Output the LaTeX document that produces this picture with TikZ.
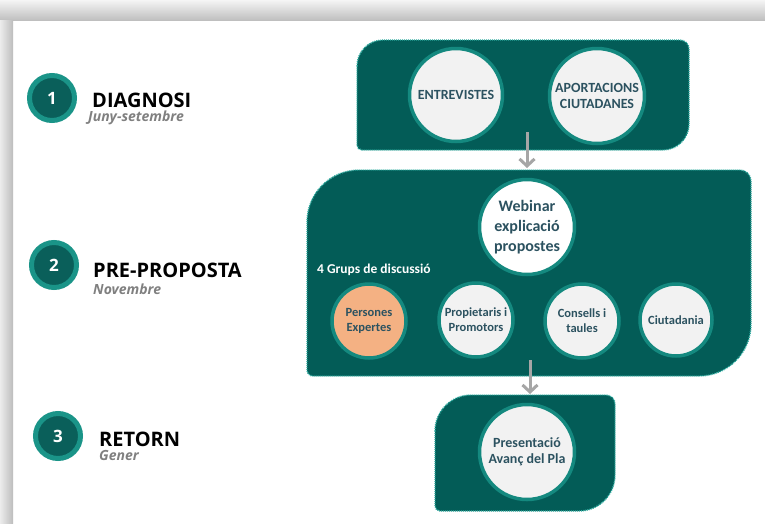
\documentclass[tikz,border=0pt]{standalone}
\usepackage{fontspec}
\setmainfont{Carlito}
\newfontfamily\osans{Open Sans}
\usetikzlibrary{arrows.meta}
\definecolor{boxfill}{HTML}{035C57}
\definecolor{boxedge}{HTML}{2AAA9E}
\definecolor{ring}{HTML}{14897F}
\definecolor{numring}{HTML}{1A9488}
\definecolor{numfill}{HTML}{0A5F5A}
\definecolor{cfill}{HTML}{F2F2F2}
\definecolor{ctext}{HTML}{2C5260}
\definecolor{orangef}{HTML}{F4B183}
\definecolor{arrowg}{HTML}{A6A6A6}
\definecolor{subg}{HTML}{808080}
% x1 y1 x2 y2 Rbig rTR rBL
\newcommand{\leafbox}[7]{%
 \path[leaf] ({#1},{#2+#5}) .. controls ({#1},{#2+0.4477*#5}) and ({#1+0.4477*#5},{#2}) .. ({#1+#5},{#2})
  -- ({#3-#6},{#2}) .. controls ({#3-0.4477*#6},{#2}) and ({#3},{#2+0.4477*#6}) .. ({#3},{#2+#6})
  -- ({#3},{#4-#5}) .. controls ({#3},{#4-0.4477*#5}) and ({#3-0.4477*#5},{#4}) .. ({#3-#5},{#4})
  -- ({#1+#7},{#4}) .. controls ({#1+0.4477*#7},{#4}) and ({#1},{#4-0.4477*#7}) .. ({#1},{#4-#7}) -- cycle;}
\begin{document}
\begin{tikzpicture}[x=1pt,y=-1pt,
  leaf/.style={fill=boxfill,draw=boxedge,line width=1.4pt,dash pattern=on 1pt off 1pt},
  numc/.style={circle,fill=numfill,draw=numring,line width=5pt,minimum size=45pt,inner sep=0pt,text=white,font=\osans\bfseries\fontsize{17}{17}\selectfont},
  phase/.style={anchor=base west,inner sep=0pt,font=\osans\bfseries\fontsize{20}{20}\selectfont,text=black},
  sub/.style={anchor=base west,inner sep=0pt,font=\osans\bfseries\itshape\fontsize{14}{14}\selectfont,text=subg},
  bigc/.style={circle,draw=ring,line width=3.5pt,fill=cfill,inner sep=0pt,align=center,text=ctext,font=\bfseries\fontsize{14}{16}\selectfont},
  smallc/.style={circle,draw=ring,line width=3.5pt,fill=cfill,inner sep=0pt,minimum size=74pt,align=center,text=ctext,font=\bfseries\fontsize{12.5}{15}\selectfont},
  flow/.style={draw=arrowg,line width=3pt,-{Straight Barb[length=7pt,width=15pt]}}
]
\useasboundingbox (0,0) rectangle (765,523);
\fill[white] (0,0) rectangle (765,523);
% frame shadow
\shade[top color=gray!8, bottom color=gray!50] (0,0) rectangle (765,20);
\shade[left color=gray!15, right color=gray!52] (0,20) rectangle (13,523);
% leaf boxes
\leafbox{357}{40}{689}{150}{26}{9}{5}
\leafbox{307}{170}{751}{376}{52}{11}{6}
\leafbox{435}{395}{615}{511}{36}{9}{5}
% phases
\node[numc] (n1) at (52,98) {1};
\node[numc] (n2) at (54,265) {2};
\node[numc] (n3) at (58,436) {3};
\node[phase] (p1) at (92,107) {DIAGNOSI};
\node[sub] (s1) at (88,121) {Juny-setembre};
\node[phase] (p2) at (93,277) {PRE-PROPOSTA};
\node[sub] (s2) at (93,294) {Novembre};
\node[phase] (p3) at (99,446) {RETORN};
\node[sub] (s3) at (99,460) {Gener};
% circles
\node[bigc,minimum size=93pt] (ent) at (456,95) {ENTREVISTES};
\node[bigc,minimum size=95pt] (apo) at (597,96) {APORTACIONS\\CIUTADANES};
\node[bigc,minimum size=95pt,fill=white,font=\bfseries\fontsize{16}{20}\selectfont] (web) at (527,227) {Webinar\\explicació\\propostes};
\node[anchor=base west,inner sep=0pt,text=white,font=\bfseries\fontsize{13.5}{14}\selectfont] (grp) at (317,273) {4 Grups de discussió};
\node[smallc,fill=orangef] (per) at (369,321) {Persones\\Expertes};
\node[smallc] (pro) at (476,320) {Propietaris i\\Promotors};
\node[smallc] (con) at (582,321) {Consells i\\taules};
\node[smallc,minimum size=72pt] (ciu) at (676,320) {Ciutadania};
\node[bigc,minimum size=95pt] (pre) at (527,452) {Presentació\\Avanç del Pla};
% arrows
\coordinate (a1s) at (527,132);
\coordinate (a1e) at (527,168);
\coordinate (a2s) at (530,360);
\coordinate (a2e) at (530,394);
\draw[flow] (a1s) -- (a1e);
\draw[flow] (a2s) -- (a2e);
\end{tikzpicture}
\end{document}
